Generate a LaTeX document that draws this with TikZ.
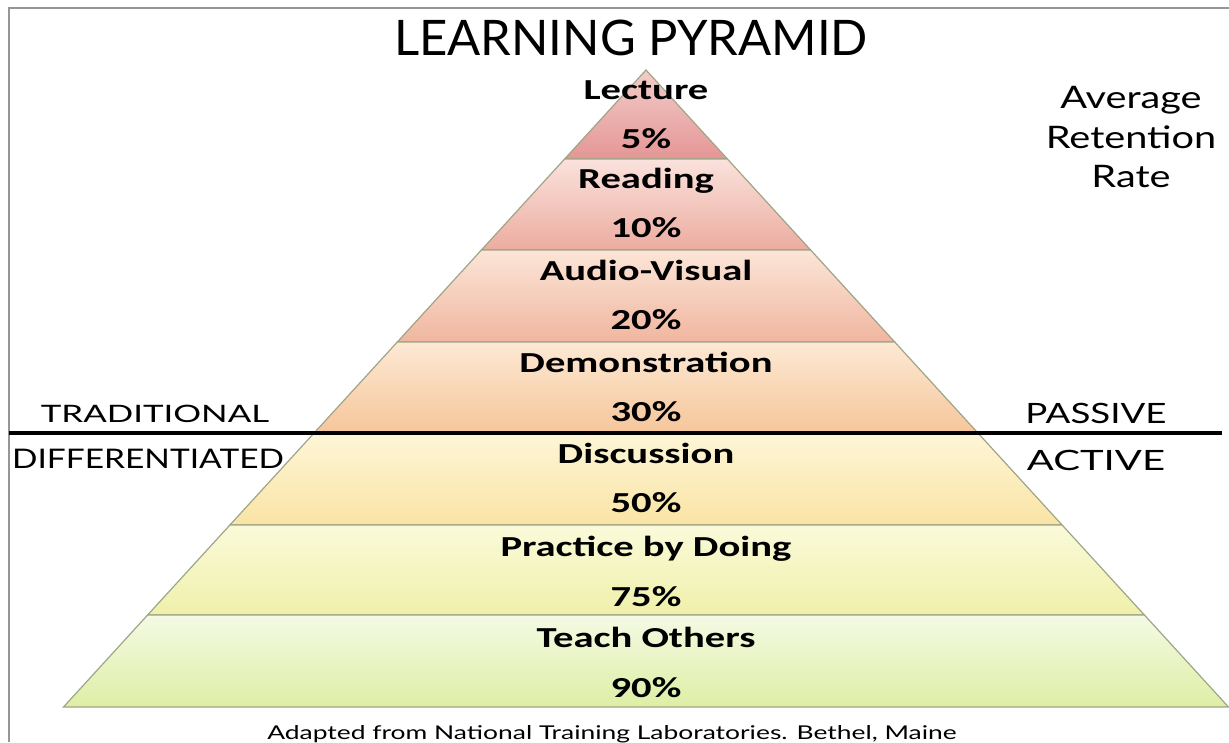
\documentclass[tikz,border=0pt]{standalone}
\usepackage{fontspec}
\usepackage{graphicx}
\setmainfont{Carlito}
\newfontfamily\gill{Lato}
\newcommand{\sx}[2]{\scalebox{#1}[1]{#2}}
\begin{document}
\begin{tikzpicture}[x=1pt,y=-1pt,
  band/.style={draw={rgb,255:red,160;green,165;blue,135}, line width=1.2pt},
  lbl/.style={font=\bfseries\fontsize{29}{30}\selectfont, text=black, inner sep=0pt, anchor=base},
  side/.style={text=black, inner sep=0pt, anchor=base},
  frame/.style={draw={rgb,255:red,150;green,150;blue,150}, line width=1.5pt}
]
\useasboundingbox (0,0) rectangle (1229,742);
\fill[white] (0,0) rectangle (1229,742);
\draw[frame] (9,742) -- (9,8) -- (1229,8);

% bands
\shade[band, top color={rgb,255:red,242;green,205;blue,200}, bottom color={rgb,255:red,228;green,150;blue,150}]
  (646,70) -- (727.4,159) -- (564.6,159) -- cycle;
\shade[band, top color={rgb,255:red,250;green,226;blue,220}, bottom color={rgb,255:red,236;green,172;blue,160}]
  (564.6,159) -- (727.4,159) -- (810.6,250) -- (481.4,250) -- cycle;
\shade[band, top color={rgb,255:red,252;green,229;blue,215}, bottom color={rgb,255:red,240;green,182;blue,160}]
  (481.4,250) -- (810.6,250) -- (894.7,342) -- (397.3,342) -- cycle;
\shade[band, top color={rgb,255:red,253;green,233;blue,212}, bottom color={rgb,255:red,246;green,198;blue,155}]
  (397.3,342) -- (894.7,342) -- (977.0,432) -- (315.0,432) -- cycle;
\shade[band, top color={rgb,255:red,253;green,246;blue,215}, bottom color={rgb,255:red,250;green,228;blue,165}]
  (315.0,432) -- (977.0,432) -- (1062.1,525) -- (229.9,525) -- cycle;
\shade[band, top color={rgb,255:red,250;green,250;blue,218}, bottom color={rgb,255:red,240;green,240;blue,170}]
  (229.9,525) -- (1062.1,525) -- (1144.4,615) -- (147.6,615) -- cycle;
\shade[band, top color={rgb,255:red,244;green,250;blue,228}, bottom color={rgb,255:red,222;green,238;blue,165}]
  (147.6,615) -- (1144.4,615) -- (1228.5,707) -- (63.5,707) -- cycle;

% divider
\coordinate (dl) at (9,433);
\coordinate (dr) at (1222,433);
\draw[line width=4pt, black] (dl) -- (dr);

% labels
\node[lbl] (l1) at (646,99) {\sx{1.4}{Lecture}};
\node[lbl] (p1) at (646,148) {\sx{1.4}{5\%}};
\node[lbl] (l2) at (646,188) {\sx{1.4}{Reading}};
\node[lbl] (p2) at (646,237) {\sx{1.4}{10\%}};
\node[lbl] (l3) at (646,280) {\sx{1.4}{Audio-Visual}};
\node[lbl] (p3) at (646,329) {\sx{1.4}{20\%}};
\node[lbl] (l4) at (646,372) {\sx{1.4}{Demonstration}};
\node[lbl] (p4) at (646,421) {\sx{1.4}{30\%}};
\node[lbl] (l5) at (646,463) {\sx{1.4}{Discussion}};
\node[lbl] (p5) at (646,512) {\sx{1.4}{50\%}};
\node[lbl] (l6) at (646,556) {\sx{1.4}{Practice by Doing}};
\node[lbl] (p6) at (646,606) {\sx{1.4}{75\%}};
\node[lbl] (l7) at (646,647) {\sx{1.4}{Teach Others}};
\node[lbl] (p7) at (646,697) {\sx{1.4}{90\%}};

% title and side texts
\node[side, font=\gill\fontsize{49}{50}\selectfont] (title) at (631,55) {LEARNING PYRAMID};
\node[side, font=\gill\fontsize{31}{32}\selectfont] (avg) at (1131,108) {\sx{1.28}{Average}};
\node[side, font=\gill\fontsize{31}{32}\selectfont] (ret) at (1131,148) {\sx{1.28}{Retention}};
\node[side, font=\gill\fontsize{31}{32}\selectfont] (rate) at (1131,187) {\sx{1.28}{Rate}};
\node[side, font=\gill\fontsize{24}{26}\selectfont] (trad) at (155,422) {\sx{1.45}{TRADITIONAL}};
\node[side, font=\gill\fontsize{27}{28}\selectfont] (diff) at (148,468) {\sx{1.24}{DIFFERENTIATED}};
\node[side, font=\gill\fontsize{28}{29}\selectfont] (pass) at (1096,423) {\sx{1.31}{PASSIVE}};
\node[side, font=\gill\fontsize{28}{29}\selectfont] (act) at (1096,470) {\sx{1.43}{ACTIVE}};
\node[side, font=\gill\fontsize{19}{21}\selectfont] (src) at (612,739) {\sx{1.39}{Adapted from National Training Laboratories. Bethel, Maine}};
\end{tikzpicture}
\end{document}
